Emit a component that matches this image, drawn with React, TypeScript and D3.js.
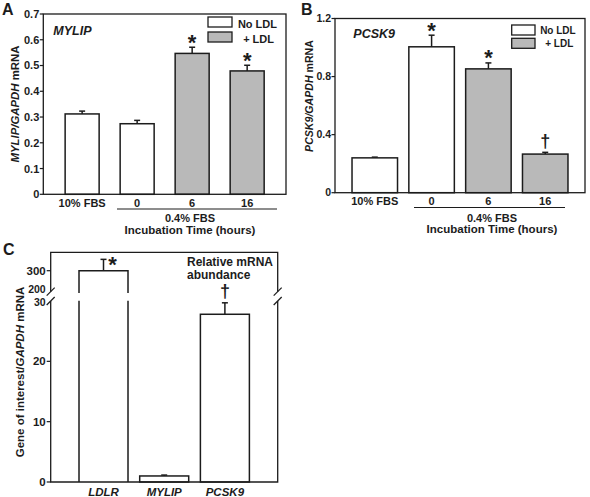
import React from 'react';
import * as d3 from 'd3';

// ---------- data ----------
const abCategories = ['10% FBS', '0', '6', '16'];
const abWithLDL = [false, false, true, true];

const aValues = [0.312, 0.274, 0.547, 0.479];
const aErrors = [0.011, 0.013, 0.024, 0.022];
const aMarks = ['', '', '*', '*'];
const aTicks = [0, 0.1, 0.2, 0.3, 0.4, 0.5, 0.6, 0.7];

const bValues = [0.24, 1.005, 0.853, 0.266];
const bErrors = [0.005, 0.08, 0.041, 0.012];
const bMarks = ['', '*', '*', '†'];
const bTicks = [0, 0.4, 0.8, 1.2];

const cCategories = ['LDLR', 'MYLIP', 'PCSK9'];
const cValues = [300, 1, 27.8];
const cErrors = [54, 0.15, 1.9];
const cMarks = ['*', '', '†'];
const cLowTicks = [0, 10, 20, 30];
const cHighTicks = [200, 300];

const legendLabels = ['No LDL', '+ LDL'];
const groupLabels = ['0.4% FBS', 'Incubation Time (hours)'];

// ---------- style ----------
const FONT = '"Liberation Sans", Arial, Helvetica, sans-serif';
const INK = '#1c1c1c';
const GRAY = '#b9b9b9';

function Mark({ sym, cx, cy }: { sym: string; cx: number; cy: number }) {
  if (!sym) return null;
  const star = sym === '*';
  const fs = star ? 22 : 18;
  const base = star ? cy + 0.56 * fs : cy + 0.27 * fs;
  return (
    <text x={cx} y={base} textAnchor="middle" fontSize={fs} fontWeight="bold" fontFamily={FONT} fill={INK}>
      {sym}
    </text>
  );
}

type BarPanelProps = {
  left: number; right: number; top: number; bottom: number;
  yMax: number; ticks: number[]; fmt: (v: number) => string;
  values: number[]; errors: number[]; marks: string[];
  pad: number; bw: number; tickFs: number;
  catBase: number; lineY: number; lineX0: number; lineX1: number;
  groupCx: number; groupBase1: number; groupBase2: number;
  gene: string; geneX: number; geneY: number;
  yLab: string; yLabX: number; yLabY: number; yLabFs: number;
  leg: { x: number; y1: number; y2: number; w: number; h: number; tx1: number; tx2: number; b1: number; b2: number; fs: number };
  letter: string; letterX: number;
};

function BarPanel(p: BarPanelProps) {
  const x = d3.scalePoint<string>().domain(abCategories).range([p.left, p.right]).padding(p.pad);
  const y = d3.scaleLinear().domain([0, p.yMax]).range([p.bottom, p.top]);
  return (
    <g fontFamily={FONT} fill={INK}>
      <text x={p.letterX} y={15} fontSize={16} fontWeight="bold">{p.letter}</text>
      {abCategories.map((c, i) => {
        const cx = x(c)!;
        const yv = y(p.values[i]);
        const ye = y(p.values[i] + p.errors[i]);
        return (
          <g key={c}>
            <line x1={cx} x2={cx} y1={yv} y2={ye} stroke={INK} strokeWidth={1.5} />
            <line x1={cx - 3} x2={cx + 3} y1={ye} y2={ye} stroke={INK} strokeWidth={1.5} />
            <rect x={cx - p.bw / 2} y={yv} width={p.bw} height={p.bottom - yv}
              fill={abWithLDL[i] ? GRAY : '#fff'} stroke={INK} strokeWidth={1.5} />
            <Mark sym={p.marks[i]} cx={cx} cy={ye - 10} />
            <text x={cx} y={p.catBase} textAnchor="middle" fontSize={11} fontWeight="bold">{c}</text>
          </g>
        );
      })}
      <rect x={p.left} y={p.top} width={p.right - p.left} height={p.bottom - p.top} fill="none" stroke={INK} strokeWidth={1.3} />
      {p.ticks.map(t => (
        <g key={t}>
          <line x1={p.left - 3.5} x2={p.left} y1={y(t)} y2={y(t)} stroke={INK} strokeWidth={1.2} />
          <text x={p.left - 4} y={y(t)} dy="0.36em" textAnchor="end" fontSize={p.tickFs} fontWeight="bold">{p.fmt(t)}</text>
        </g>
      ))}
      <line x1={p.lineX0} x2={p.lineX1} y1={p.lineY} y2={p.lineY} stroke={INK} strokeWidth={1.1} />
      <text x={p.groupCx} y={p.groupBase1} textAnchor="middle" fontSize={11} fontWeight="bold">{groupLabels[0]}</text>
      <text x={p.groupCx} y={p.groupBase2} textAnchor="middle" fontSize={11.5} fontWeight="bold">{groupLabels[1]}</text>
      <text x={p.geneX} y={p.geneY} fontSize={12.5} fontWeight="bold" fontStyle="italic">{p.gene}</text>
      <text transform={`translate(${p.yLabX},${p.yLabY}) rotate(-90)`} textAnchor="middle" dominantBaseline="central"
        fontSize={p.yLabFs} fontWeight="bold">
        <tspan fontStyle="italic">{p.yLab}</tspan>{' mRNA'}
      </text>
      <rect x={p.leg.x} y={p.leg.y1} width={p.leg.w} height={p.leg.h} fill="#fff" stroke={INK} strokeWidth={1.3} />
      <rect x={p.leg.x} y={p.leg.y2} width={p.leg.w} height={p.leg.h} fill={GRAY} stroke={INK} strokeWidth={1.3} />
      <text x={p.leg.tx1} y={p.leg.b1} textAnchor="end" fontSize={p.leg.fs} fontWeight="bold">{legendLabels[0]}</text>
      <text x={p.leg.tx2} y={p.leg.b2} textAnchor="end" fontSize={p.leg.fs} fontWeight="bold">{legendLabels[1]}</text>
    </g>
  );
}

function PanelC() {
  const left = 50.7, right = 277.7, top = 252.3, bottom = 482;
  const lowTop = 301, highBottom = 291.7;
  const gapTop = 293, gapBottom = 300.7;
  const x = d3.scalePoint<string>().domain(cCategories).range([left, right]).padding(0.87);
  const yLow = d3.scaleLinear().domain([0, 30]).range([bottom, lowTop]);
  const yHigh = d3.scaleLinear().domain([200, 300]).range([highBottom, 270.7]);
  const yAny = (v: number) => (v > 30 ? yHigh(v) : yLow(v));
  const bw = 49;
  const slash = (sx: number, sy: number, k: string) => (
    <line key={k} x1={sx - 4} y1={sy + 4} x2={sx + 4} y2={sy - 4} stroke={INK} strokeWidth={1.2} />
  );
  return (
    <g fontFamily={FONT} fill={INK}>
      <text x={3} y={255} fontSize={16} fontWeight="bold">C</text>
      {cCategories.map((c, i) => {
        const cx = x(c)!;
        const v = cValues[i];
        const yv = yAny(v);
        const ye = yAny(v + cErrors[i]);
        const l = cx - bw / 2, r = cx + bw / 2;
        const broken = v > 30;
        const markRight = ye - 16 < top;
        return (
          <g key={c}>
            <line x1={cx} x2={cx} y1={yv} y2={ye} stroke={INK} strokeWidth={1.5} />
            <line x1={cx - 3} x2={cx + 3} y1={ye} y2={ye} stroke={INK} strokeWidth={1.5} />
            {broken ? (
              <g fill="none" stroke={INK} strokeWidth={1.5}>
                <path d={`M${l},${gapTop}V${yv}H${r}V${gapTop}`} />
                <path d={`M${l},${gapBottom}V${bottom}M${r},${gapBottom}V${bottom}`} />
              </g>
            ) : (
              <rect x={l} y={yv} width={bw} height={bottom - yv} fill="#fff" stroke={INK} strokeWidth={1.5} />
            )}
            {markRight ? <Mark sym={cMarks[i]} cx={cx + 9} cy={ye} /> : <Mark sym={cMarks[i]} cx={cx} cy={ye - 10.5} />}
            <text x={cx} y={496} textAnchor="middle" fontSize={11.5} fontWeight="bold" fontStyle="italic">{c}</text>
          </g>
        );
      })}
      <g stroke={INK} strokeWidth={1.3} fill="none">
        <path d={`M${left},${highBottom}V${top}H${right}V${highBottom}`} />
        <path d={`M${left},${lowTop}V${bottom}H${right}V${lowTop}`} />
      </g>
      {slash(left, highBottom, 'l1')}
      {slash(left, lowTop, 'l2')}
      {slash(right, highBottom, 'r1')}
      {slash(right, lowTop, 'r2')}
      {cLowTicks.map(t => (
        <g key={'lo' + t}>
          {t !== 30 && <line x1={left - 4} x2={left} y1={yLow(t)} y2={yLow(t)} stroke={INK} strokeWidth={1.2} />}
          <text x={left - 5} y={yLow(t) + (t === 30 ? 1.5 : 0)} dy="0.36em" textAnchor="end" fontSize={t === 30 ? 10.5 : 11.5} fontWeight="bold">{t}</text>
        </g>
      ))}
      {cHighTicks.map(t => (
        <g key={'hi' + t}>
          {t !== 200 && <line x1={left - 4} x2={left} y1={yHigh(t)} y2={yHigh(t)} stroke={INK} strokeWidth={1.2} />}
          <text x={left - 5} y={yHigh(t) - (t === 200 ? 2 : 0)} dy="0.36em" textAnchor="end" fontSize={t === 200 ? 10.5 : 11.5} fontWeight="bold">{t}</text>
        </g>
      ))}
      <text x={187} y={266} fontSize={12} fontWeight="bold">Relative mRNA</text>
      <text x={187} y={279} fontSize={12} fontWeight="bold">abundance</text>
      <text transform={`translate(20,372) rotate(-90)`} textAnchor="middle" dominantBaseline="central" fontSize={11.5} fontWeight="bold">
        {'Gene of interest/'}<tspan fontStyle="italic">GAPDH</tspan>{' mRNA'}
      </text>
    </g>
  );
}

export default function App() {
  const fmtA = (v: number) => (v === 0 ? '0' : d3.format('.1f')(v));
  return (
    <svg width={590} height={497} style={{ position: 'absolute', left: 0, top: 0, background: '#fff' }}>
      <rect width={590} height={497} fill="#fff" />
      <BarPanel
        left={43.3} right={286} top={14} bottom={194.3} yMax={0.7} ticks={aTicks} fmt={fmtA}
        values={aValues} errors={aErrors} marks={aMarks} pad={0.706} bw={34} tickFs={11}
        catBase={206.7} lineY={209} lineX0={117} lineX1={277}
        groupCx={190} groupBase1={221.7} groupBase2={233.5}
        gene="MYLIP" geneX={53.3} geneY={35}
        yLab="MYLIP/GAPDH" yLabX={15} yLabY={104} yLabFs={11.4}
        leg={{ x: 208, y1: 17, y2: 32, w: 24, h: 10, tx1: 277, tx2: 274, b1: 28, b2: 43, fs: 11 }}
        letter="A" letterX={2}
      />
      <BarPanel
        left={335} right={585} top={18.5} bottom={192.7} yMax={1.2} ticks={bTicks} fmt={fmtA}
        values={bValues} errors={bErrors} marks={bMarks} pad={0.7} bw={45.5} tickFs={10.5}
        catBase={205} lineY={207.5} lineX0={414} lineX1={565}
        groupCx={492} groupBase1={221.7} groupBase2={233.3}
        gene="PCSK9" geneX={353.3} geneY={38.3}
        yLab="PCSK9/GAPDH" yLabX={308.7} yLabY={96} yLabFs={10.6}
        leg={{ x: 511.7, y1: 25, y2: 38.3, w: 23.3, h: 10, tx1: 575.7, tx2: 573.3, b1: 33.5, b2: 47.3, fs: 10 }}
        letter="B" letterX={301}
      />
      <PanelC />
    </svg>
  );
}
